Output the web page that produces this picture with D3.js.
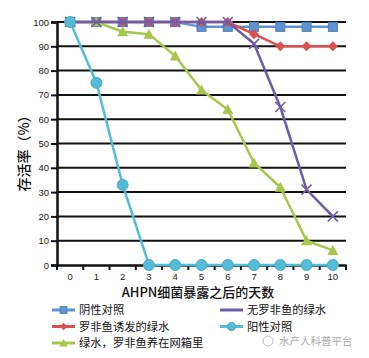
<!DOCTYPE html>
<html><head><meta charset="utf-8">
<script src="https://cdnjs.cloudflare.com/ajax/libs/d3/7.8.5/d3.min.js"></script>
<style>body{margin:0;background:#fff}svg{display:block}</style>
</head><body><svg id="c" width="369" height="358"></svg>
<script>
const days = ["0","1","2","3","4","5","6","7","8","9","10"];
const yTicks = [0,10,20,30,40,50,60,70,80,90,100];
const negControl = [100,100,100,100,100,98,98,98,98,98,98];
const tilapiaGreen = [100,100,100,100,100,100,100,95,90,90,90];
const cagedGreen = [100,100,96,95,86,72,64,42,32,10,6];
const noTilapiaGreen = [100,100,100,100,100,100,100,91,65,31,20];
const posControl = [100,75,33,0,0,0,0,0,0,0,0];
const seriesNames = ["阴性对照","罗非鱼诱发的绿水","绿水，罗非鱼养在网箱里","无罗非鱼的绿水","阳性对照"];
const seriesColors = ["#5f93d3","#d9504f","#a8c64c","#6f5ca8","#55bcd8"];
const seriesMarkers = ["square","diamond","triangle","cross","circle"];
const seriesValues = [negControl,tilapiaGreen,cagedGreen,noTilapiaGreen,posControl];

const svg = d3.select("#c");
const L=57,R=346,T=22,B=265;
const x = d3.scaleBand().domain(days).range([L,R]);
const xc = d => x(d)+x.bandwidth()/2;
const y = d3.scaleLinear().domain([0,100]).range([B,T]);
const cjk = "'Noto Sans CJK SC','Noto Sans',sans-serif";

// gridlines
svg.append("g").selectAll("line").data(yTicks.filter(v=>v>0)).join("line")
  .attr("x1",L).attr("x2",R).attr("y1",d=>y(d)).attr("y2",d=>y(d))
  .attr("stroke","#111").attr("stroke-width",2);

// y axis
const ya = svg.append("g").attr("transform",`translate(${L},0)`)
  .call(d3.axisLeft(y).tickValues(yTicks).tickSize(6).tickPadding(2));
ya.select(".domain").attr("stroke","#111").attr("stroke-width",2.5);
ya.selectAll(".tick line").attr("stroke","#111").attr("stroke-width",2);
ya.selectAll("text").attr("font-family","'Liberation Sans',sans-serif").attr("font-size",9.5).attr("fill","#222");

// x axis
const xa = svg.append("g").attr("transform",`translate(0,${B})`)
  .call(d3.axisBottom(x).tickSize(0).tickPadding(8));
xa.select(".domain").attr("stroke","#111").attr("stroke-width",2.5);
xa.selectAll("text").attr("font-family","'Liberation Sans',sans-serif").attr("font-size",9.5).attr("fill","#222");
// boundary tick marks
svg.append("g").selectAll("line").data(d3.range(days.length+1)).join("line")
  .attr("x1",i=>L+i*x.bandwidth()).attr("x2",i=>L+i*x.bandwidth())
  .attr("y1",B).attr("y2",B+5).attr("stroke","#111").attr("stroke-width",2);

// axis titles
svg.append("text").attr("x",198).attr("y",297).attr("text-anchor","middle")
  .attr("font-family",cjk).attr("font-size",13).attr("font-weight",500).attr("fill","#111")
  .text("AHPN细菌暴露之后的天数");
svg.append("text").attr("transform","translate(29,150) rotate(-90)").attr("text-anchor","middle")
  .attr("font-family",cjk).attr("font-size",14).attr("font-weight",500).attr("fill","#111")
  .text("存活率（%）");

function marker(g, type, color, cx, cy, s){
  if(type==="square") g.append("rect").attr("x",cx-4.5*s).attr("y",cy-4.5*s).attr("width",9*s).attr("height",9*s).attr("fill",color).attr("stroke",d3.color(color).darker(0.4));
  else if(type==="diamond") g.append("path").attr("d",`M${cx},${cy-5*s}L${cx+5*s},${cy}L${cx},${cy+5*s}L${cx-5*s},${cy}Z`).attr("fill",color);
  else if(type==="triangle") g.append("path").attr("d",`M${cx},${cy-5.5*s}L${cx+5.5*s},${cy+4.5*s}L${cx-5.5*s},${cy+4.5*s}Z`).attr("fill",color);
  else if(type==="cross") g.append("path").attr("d",`M${cx-5},${cy-5}L${cx+5},${cy+5}M${cx-5},${cy+5}L${cx+5},${cy-5}`).attr("stroke",color).attr("stroke-width",1.6);
  else g.append("circle").attr("cx",cx).attr("cy",cy).attr("r",5.5*s).attr("fill",color).attr("stroke",d3.color(color).darker(0.3));
}

const line = d3.line().x((d,i)=>xc(days[i])).y(d=>y(d));
seriesValues.forEach((vals,k)=>{
  const g = svg.append("g");
  g.append("path").datum(vals).attr("d",line).attr("fill","none")
    .attr("stroke",seriesColors[k]).attr("stroke-width",2.5);
  vals.forEach((v,i)=>marker(g,seriesMarkers[k],seriesColors[k],xc(days[i]),y(v),1));
});

// legend
const legPos = [[52,310],[52,326.5],[52,343],[220,310],[220,326.5]];
[0,1,2,3,4].forEach((k,j)=>{
  const [lx,ly]=legPos[j];
  const g=svg.append("g");
  g.append("line").attr("x1",lx).attr("x2",lx+23).attr("y1",ly).attr("y2",ly)
    .attr("stroke",seriesColors[k]).attr("stroke-width",3);
  if(seriesMarkers[k]!=="cross") marker(g,seriesMarkers[k],seriesColors[k],lx+11.5,ly,0.75);
  g.append("text").attr("x",lx+27).attr("y",ly+4).attr("font-family",cjk).attr("font-size",11.3)
    .attr("fill","#111").text(seriesNames[k]);
});

// watermark
svg.append("circle").attr("cx",268).attr("cy",341).attr("r",5).attr("fill","none").attr("stroke","#bbb");
svg.append("text").attr("x",279).attr("y",345).attr("font-family",cjk).attr("font-size",10.5)
  .attr("fill","#aaa").text("水产人科普平台");
</script></body></html>
